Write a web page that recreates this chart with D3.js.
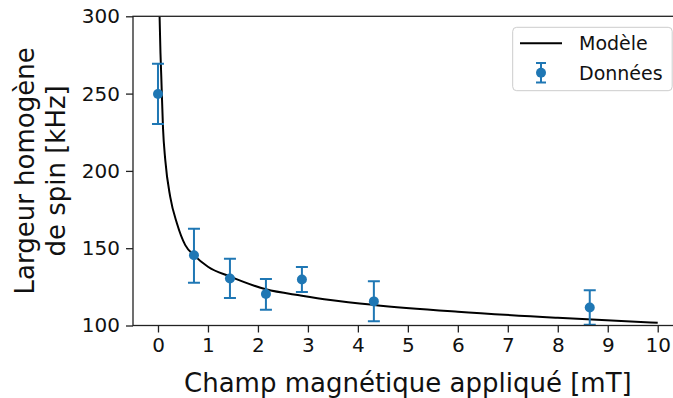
<!DOCTYPE html>
<html>
<head>
<meta charset="utf-8">
<script src="https://cdn.jsdelivr.net/npm/d3@7"></script>
<style>
  body { margin: 0; background: #fff; }
  text { font-family: "DejaVu Sans", sans-serif; }
</style>
</head>
<body>
<div id="chart"></div>
<script>
// measured points (field in mT, width in kHz)
const fieldValues = [0, 0.72, 1.44, 2.16, 2.88, 4.32, 8.64];
const widthValues = [249.7, 145.4, 130.4, 120.4, 129.7, 115.6, 111.6];
const errLow = [230.3, 127.7, 117.8, 110.2, 121.7, 102.7, 100.5];
const errHigh = [269.3, 162.6, 143.2, 130.1, 137.8, 128.6, 122.8];

// model curve
const modelField = [0.032, 0.05, 0.066, 0.1, 0.146, 0.246, 0.38, 0.546, 0.72, 1.0, 1.446, 2.16, 2.88, 3.45, 4.32, 6, 8, 10];
const modelWidth = [300, 276, 261, 228, 207, 183, 166, 152, 145.5, 138, 131.6, 123.4, 119.3, 116.5, 113.3, 108.9, 105, 101.8];

const xTicks = [0, 1, 2, 3, 4, 5, 6, 7, 8, 9, 10];
const yTicks = [100, 150, 200, 250, 300];

const width = 673;
const height = 398;
const margin = { left: 133, top: 16.3, right: 682.7, bottom: 325.5 };

const svg = d3
  .select("#chart")
  .append("svg")
  .attr("width", width)
  .attr("height", height);

const x = d3.scaleLinear().domain([-0.5, 10.5]).range([margin.left, margin.right]);
const y = d3.scaleLinear().domain([100, 300]).range([margin.bottom, margin.top]);

svg.append("clipPath")
  .attr("id", "plotArea")
  .append("rect")
  .attr("x", margin.left)
  .attr("y", margin.top)
  .attr("width", margin.right - margin.left)
  .attr("height", margin.bottom - margin.top);

// model line
const model = modelField.map((f, i) => [f, modelWidth[i]]);
const line = d3
  .line()
  .x((d) => x(d[0]))
  .y((d) => y(d[1]))
  .curve(d3.curveMonotoneX);

svg.append("path")
  .datum(model)
  .attr("clip-path", "url(#plotArea)")
  .attr("fill", "none")
  .attr("stroke", "#000")
  .attr("stroke-width", 2)
  .attr("d", line);

// error bars + points
const blue = "#1f77b4";
const pts = fieldValues.map((f, i) => ({ f: f, v: widthValues[i], lo: errLow[i], hi: errHigh[i] }));

const bars = svg.append("g").attr("clip-path", "url(#plotArea)");
bars.selectAll("line.err")
  .data(pts)
  .enter()
  .append("line")
  .attr("class", "err")
  .attr("x1", (d) => x(d.f))
  .attr("x2", (d) => x(d.f))
  .attr("y1", (d) => y(d.lo))
  .attr("y2", (d) => y(d.hi))
  .attr("stroke", blue)
  .attr("stroke-width", 2);

["lo", "hi"].forEach(function (k) {
  bars.selectAll("line.cap-" + k)
    .data(pts)
    .enter()
    .append("line")
    .attr("class", "cap-" + k)
    .attr("x1", (d) => x(d.f) - 6)
    .attr("x2", (d) => x(d.f) + 6)
    .attr("y1", (d) => y(d[k]))
    .attr("y2", (d) => y(d[k]))
    .attr("stroke", blue)
    .attr("stroke-width", 2);
});

bars.selectAll("circle")
  .data(pts)
  .enter()
  .append("circle")
  .attr("cx", (d) => x(d.f))
  .attr("cy", (d) => y(d.v))
  .attr("r", 5)
  .attr("fill", blue);

// axes
const xAxis = svg.append("g")
  .attr("transform", "translate(0," + margin.bottom + ")")
  .call(d3.axisBottom(x).tickValues(xTicks).tickSize(7).tickPadding(5).tickFormat(d3.format("d")));
const yAxis = svg.append("g")
  .attr("transform", "translate(" + margin.left + ",0)")
  .call(d3.axisLeft(y).tickValues(yTicks).tickSize(7).tickPadding(6).tickFormat(d3.format("d")));

[xAxis, yAxis].forEach(function (ax) {
  ax.select(".domain").remove();
  ax.selectAll(".tick line").attr("stroke", "#222").attr("stroke-width", 1.3);
  ax.selectAll("text").attr("font-size", 20).attr("fill", "#111").attr("font-family", "DejaVu Sans");
});

// spines
svg.append("rect")
  .attr("x", margin.left)
  .attr("y", margin.top)
  .attr("width", margin.right - margin.left)
  .attr("height", margin.bottom - margin.top)
  .attr("fill", "none")
  .attr("stroke", "#222")
  .attr("stroke-width", 1.3);

// labels
svg.append("text")
  .attr("x", (x(0) + x(10)) / 2)
  .attr("y", 392)
  .attr("text-anchor", "middle")
  .attr("font-size", 26)
  .attr("fill", "#111")
  .text("Champ magnétique appliqué [mT]");

const yl = svg.append("text")
  .attr("transform", "translate(33.5," + (margin.top + margin.bottom) / 2 + ") rotate(-90)")
  .attr("text-anchor", "middle")
  .attr("font-size", 26)
  .attr("fill", "#111");
yl.append("tspan").attr("x", 0).attr("y", 0).text("Largeur homogène");
yl.append("tspan").attr("x", 0).attr("y", 31).text("de spin [kHz]");

// legend
const lg = svg.append("g");
lg.append("rect")
  .attr("x", 512.7)
  .attr("y", 27.3)
  .attr("width", 159.5)
  .attr("height", 63.4)
  .attr("rx", 4)
  .attr("fill", "#fff")
  .attr("fill-opacity", 0.8)
  .attr("stroke", "#ccc")
  .attr("stroke-width", 1);
lg.append("line")
  .attr("x1", 520).attr("x2", 562)
  .attr("y1", 43.3).attr("y2", 43.3)
  .attr("stroke", "#000").attr("stroke-width", 2);
lg.append("line")
  .attr("x1", 541).attr("x2", 541)
  .attr("y1", 63).attr("y2", 82.5)
  .attr("stroke", blue).attr("stroke-width", 2);
[63, 82.5].forEach(function (cy) {
  lg.append("line")
    .attr("x1", 536).attr("x2", 546)
    .attr("y1", cy).attr("y2", cy)
    .attr("stroke", blue).attr("stroke-width", 2);
});
lg.append("circle").attr("cx", 541).attr("cy", 72.8).attr("r", 5).attr("fill", blue);
lg.append("text").attr("x", 579).attr("y", 49.5).attr("font-size", 19).attr("fill", "#111").text("Modèle");
lg.append("text").attr("x", 579).attr("y", 79.5).attr("font-size", 19).attr("fill", "#111").text("Données");
</script>
</body>
</html>
